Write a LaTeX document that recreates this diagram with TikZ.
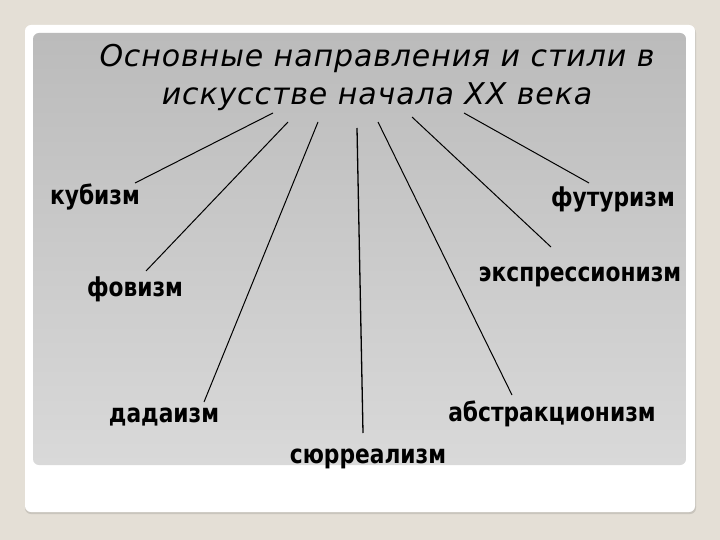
\documentclass[tikz,border=0pt]{standalone}
\usepackage{fontspec}
\setmainfont{DejaVu Sans}
\newfontfamily\labelfont{DejaVu Sans Condensed}
\newfontfamily\titlefont{DejaVu Sans}[LetterSpace=3]
\newcommand{\lbtext}[1]{\scalebox{0.93}[1]{#1}}
\definecolor{bgc}{HTML}{E4DFD6}
\definecolor{shadowc}{HTML}{C9C5BD}
\definecolor{paneltop}{HTML}{BBBBBB}
\definecolor{panelbot}{HTML}{D9D9D9}
\tikzset{
  lbl/.style={font=\labelfont\bfseries\fontsize{26}{30}\selectfont, inner sep=0pt, anchor=center},
  ttl/.style={font=\titlefont\itshape\fontsize{30}{38}\selectfont, inner sep=0pt, align=center, anchor=center},
  conn/.style={draw=black, line width=1pt}
}
\begin{document}
\begin{tikzpicture}[x=1pt,y=1pt]
\useasboundingbox (0,0) rectangle (720,-540);
\fill[bgc] (0,0) rectangle (720,-540);
% card
\fill[shadowc, rounded corners=6pt] (25,-27) rectangle (696,-514);
\fill[white, rounded corners=6pt] (25,-25) rectangle (695,-512);
% panel
\shade[top color=paneltop, bottom color=panelbot, rounded corners=6pt] (33,-33) rectangle (686,-465);
% title
\node[ttl] (title) at (377,-77) {Основные направления и стили в\\искусстве начала ХХ века};
% labels
\node[lbl] (kub) at (95,-197) {\lbtext{кубизм}};
\node[lbl] (fut) at (613,-199) {\lbtext{футуризм}};
\node[lbl] (fov) at (135,-289) {\lbtext{фовизм}};
\node[lbl] (exp) at (580,-277) {\lbtext{экспрессионизм}};
\node[lbl] (dad) at (164,-417) {\lbtext{дадаизм}};
\node[lbl] (abs) at (552,-414) {\lbtext{абстракционизм}};
\node[lbl] (sur) at (368,-459) {\lbtext{сюрреализм}};
% connector end points
\coordinate (s1) at (273,-113); \coordinate (e1) at (135,-183);
\coordinate (s2) at (288,-122); \coordinate (e2) at (146,-271);
\coordinate (s3) at (318,-122); \coordinate (e3) at (204,-402);
\coordinate (s4) at (357,-128); \coordinate (e4) at (363,-433);
\coordinate (s5) at (378,-122); \coordinate (e5) at (512,-395);
\coordinate (s6) at (412,-117); \coordinate (e6) at (551,-247);
\coordinate (s7) at (464,-113); \coordinate (e7) at (589,-183);
\draw[conn] (s1) -- (e1);
\draw[conn] (s2) -- (e2);
\draw[conn] (s3) -- (e3);
\draw[conn, line width=1.3pt] (s4) -- (e4);
\draw[conn] (s5) -- (e5);
\draw[conn] (s6) -- (e6);
\draw[conn] (s7) -- (e7);
\end{tikzpicture}
\end{document}
